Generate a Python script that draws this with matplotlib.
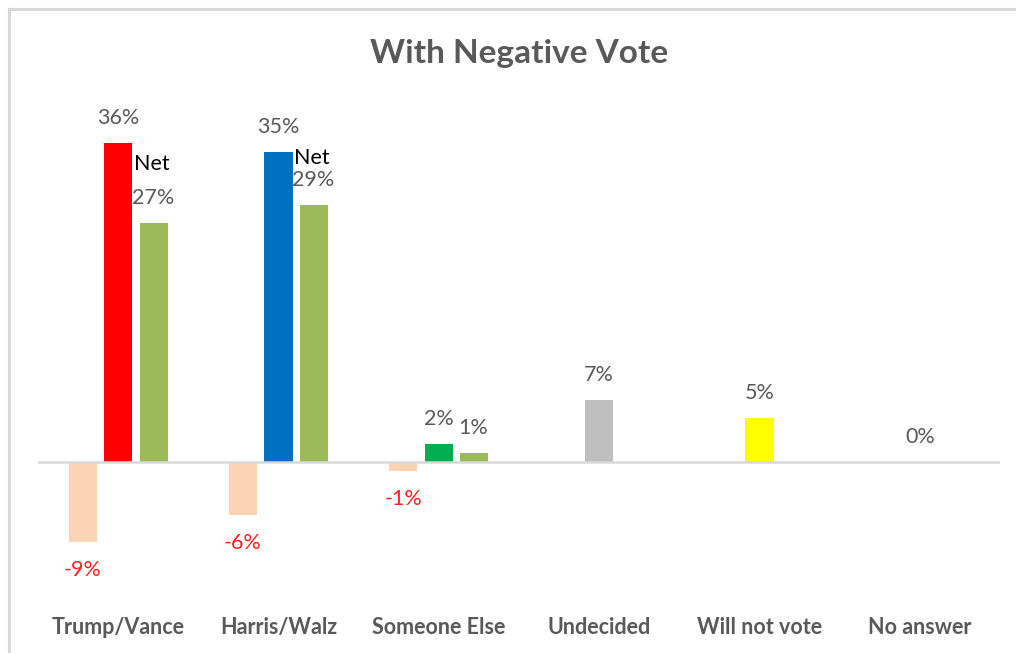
import matplotlib.pyplot as plt
from matplotlib.lines import Line2D

# chart data (percent)
categories = ["Trump/Vance", "Harris/Walz", "Someone Else", "Undecided", "Will not vote", "No answer"]
negative = [-9, -6, -1, None, None, None]
vote = [36, 35, 2, 7, 5, 0]
net = [27, 29, 1, None, None, None]

vote_colors = ["#FF0000", "#0070C0", "#00B050", "#BFBFBF", "#FFFF00", "#FFFFFF"]
neg_color = "#FBD4B4"
net_color = "#9BBB59"
label_gray = "#595959"
label_red = "#FF2020"

plt.rcParams['font.family'] = ['Lato', 'DejaVu Sans']

fig = plt.figure(figsize=(10.16, 6.53), dpi=100)
ax = fig.add_axes([38/1016, 1 - 595/653, 962/1016, 487/653])

step = 0.222
width = 0.175
lbl_size = 15.5
x = list(range(len(categories)))

for i in x:
    if negative[i] is not None:
        ax.bar(i - step, negative[i], width, color=neg_color)
        ax.annotate(f"{negative[i]}%", (i - step, negative[i]), xytext=(0, -28),
                    textcoords="offset pixels", ha="center", va="center",
                    color=label_red, fontsize=lbl_size)
    ax.bar(i, vote[i], width, color=vote_colors[i])
    ax.annotate(f"{vote[i]}%", (i, vote[i]), xytext=(0, 25),
                textcoords="offset pixels", ha="center", va="center",
                color=label_gray, fontsize=lbl_size)
    if net[i] is not None:
        ax.bar(i + step, net[i], width, color=net_color)
        ax.annotate(f"{net[i]}%", (i + step, net[i]), xytext=(-1, 25),
                    textcoords="offset pixels", ha="center", va="center",
                    color=label_gray, fontsize=lbl_size)

# the hand-placed "Net" tags
ax.annotate("Net", (0 + step, net[0]), xytext=(-2, 59), textcoords="offset pixels",
            ha="center", va="center", color="black", fontsize=lbl_size)
ax.annotate("Net", (1 + step, net[1]), xytext=(-2, 47), textcoords="offset pixels",
            ha="center", va="center", color="black", fontsize=lbl_size)

ax.axhline(0, color="#D9D9D9", linewidth=1.8, zorder=3)
ax.set_xlim(-0.5, len(categories) - 0.5)
ax.set_ylim(-15, 40)
ax.set_yticks([])
ax.set_xticks(x)
ax.set_xticklabels(categories, fontsize=15.5, fontweight="bold", color=label_gray)
ax.tick_params(axis="x", length=0, pad=16)
for s in ax.spines.values():
    s.set_visible(False)

fig.text(519/1016, 1 - 54/653, "With Negative Vote", ha="center", va="center",
         fontsize=24, fontweight="bold", color=label_gray)

# outer chart frame (top and left edge visible)
fig.add_artist(Line2D([9/1016, 1], [1 - 9/653, 1 - 9/653], color="#D9D9D9", linewidth=2.2))
fig.add_artist(Line2D([9/1016, 9/1016], [0, 1 - 9/653], color="#D9D9D9", linewidth=2.2))

fig.savefig("out.png", dpi=100)
